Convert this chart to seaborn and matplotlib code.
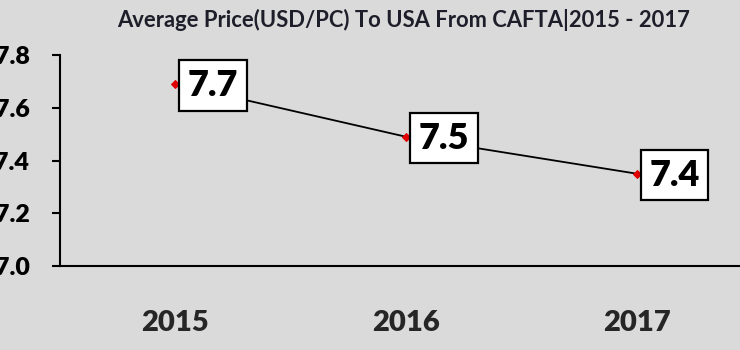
import matplotlib
matplotlib.use("Agg")
import matplotlib.pyplot as plt
import seaborn as sns
import pandas as pd

years = ["2015", "2016", "2017"]
prices = [7.69, 7.49, 7.35]
labels = ["7.7", "7.5", "7.4"]
yticks = [7.0, 7.2, 7.4, 7.6, 7.8]
title = "Average Price(USD/PC) To USA From CAFTA|2015 - 2017"

sns.set_style("white")
plt.rcParams["font.family"] = ["Lato", "DejaVu Sans"]

df = pd.DataFrame({"year": years, "price": prices})

fig = plt.figure(figsize=(7.4, 3.5), dpi=100)
bg = "#dadada"
fig.patch.set_facecolor(bg)
ax = fig.add_axes([60 / 740, 84 / 350, 692 / 740, 211 / 350])
ax.set_facecolor(bg)

sns.lineplot(data=df, x="year", y="price", ax=ax, color="black", linewidth=1.3,
             marker="D", markersize=4, markerfacecolor="#e00000",
             markeredgecolor="#e00000", sort=False, zorder=2)

for i, (v, lab) in enumerate(zip(prices, labels)):
    ax.annotate(lab, xy=(i, v), xytext=(9, -1), textcoords="offset points",
                ha="left", va="center", fontsize=26, fontweight="heavy",
                color="black", zorder=5,
                bbox=dict(boxstyle="square,pad=0.24", fc="white", ec="black", lw=1.6))

ax.set_xlim(-0.5, 2.5)
ax.set_ylim(7.0, 7.8)
ax.set_yticks(yticks)
ax.set_yticklabels([f"{t:.1f}" for t in yticks], fontsize=18, fontweight="heavy")
ax.tick_params(axis="y", direction="out", length=6, width=1.5, pad=16, left=True, colors="black")
ax.tick_params(axis="x", length=0, pad=32, labelsize=21)
for lab in ax.get_xticklabels():
    lab.set_fontweight("heavy")
ax.set_xlabel("")
ax.set_ylabel("")
for s in ["top", "right"]:
    ax.spines[s].set_visible(False)
for s in ["left", "bottom"]:
    ax.spines[s].set_color("black")
    ax.spines[s].set_linewidth(1.5)

fig.text(404 / 740, 1 - 20 / 350, title, ha="center", va="center", fontsize=15.8,
         fontweight="bold", color="#1e1e2a")

fig.savefig("out.png", dpi=100, facecolor=bg)
